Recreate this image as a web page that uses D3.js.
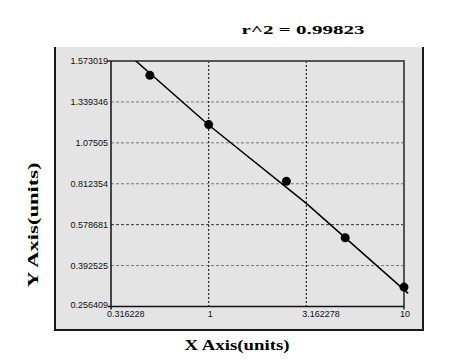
<!DOCTYPE html>
<html>
<head>
<meta charset="utf-8">
<script src="https://cdn.jsdelivr.net/npm/d3@7"></script>
<style>
  body { margin: 0; background: #fff; }
  svg { display: block; }
</style>
</head>
<body>
<svg id="chart"></svg>
<script>
const w = 473, h = 362;

// data
const xTicks = [0.316228, 1, 3.162278, 10];
const xTickLabels = ['0.316228', '1', '3.162278', '10'];
const yTicks = [1.573019, 1.339346, 1.07505, 0.812354, 0.578681, 0.392525, 0.256409];
const yTickLabels = ['1.573019', '1.339346', '1.07505', '0.812354', '0.578681', '0.392525', '0.256409'];
const pointsX = [0.5, 1, 2.5, 5, 10];
const pointsY = [1.491, 1.193, 0.828, 0.519, 0.321];
const fitX = [0.38, 1, 3.162278, 10.5];
const fitY = [1.62, 1.19, 0.70, 0.30];
const rSquared = 'r^2 = 0.99823';

// layout
const pX0 = 111, pX1 = 404, pY0 = 61, pY1 = 306.5;

const svg = d3.select('#chart')
    .attr('width', w)
    .attr('height', h)

// grey panel
svg.append('rect')
    .attr('x', 55)
    .attr('y', 47)
    .attr('width', 368)
    .attr('height', 283)
    .attr('fill', '#e4e4e4')

svg.append('path')
    .attr('d', 'M55,47 V330 H423 V47')
    .attr('fill', 'none')
    .attr('stroke', '#1a1a1a')
    .attr('stroke-width', 2)

// scales
const x = d3.scaleLog().domain([xTicks[0], xTicks[xTicks.length - 1]]).range([pX0, pX1])
const step = (pY1 - pY0) / (yTicks.length - 1)
const y = d3.scaleLinear()
    .domain(yTicks)
    .range(yTicks.map((d, i) => pY0 + i * step))

// horizontal grid
svg.append('g')
    .selectAll('line')
    .data(yTicks.slice(1, -1))
    .enter()
    .append('line')
    .attr('x1', pX0)
    .attr('x2', pX1)
    .attr('y1', d => y(d))
    .attr('y2', d => y(d))
    .attr('stroke', (d, i) => i === 3 ? '#333' : '#777')
    .attr('stroke-dasharray', '3,2')
    .attr('stroke-width', 1)

// vertical grid
svg.append('g')
    .selectAll('line')
    .data(xTicks.slice(1, -1))
    .enter()
    .append('line')
    .attr('x1', d => x(d))
    .attr('x2', d => x(d))
    .attr('y1', pY0)
    .attr('y2', pY1)
    .attr('stroke', '#222')
    .attr('stroke-dasharray', '2,2')
    .attr('stroke-width', 1.2)

// frame
svg.append('path')
    .attr('d', 'M' + (pX0 - 4) + ',' + pY0 + ' H' + pX1 + ' V' + (pY1 + 3))
    .attr('fill', 'none')
    .attr('stroke', '#555')
    .attr('stroke-width', 2)

svg.append('path')
    .attr('d', 'M' + pX0 + ',' + pY0 + ' V' + (pY1 + 3) + ' M' + (pX0 - 3) + ',' + pY1 + ' H' + pX1)
    .attr('fill', 'none')
    .attr('stroke', '#111')
    .attr('stroke-width', 1.5)

// clip for the fit line
svg.append('clipPath')
    .attr('id', 'plotClip')
    .append('rect')
    .attr('x', pX0)
    .attr('y', pY0)
    .attr('width', pX1 - pX0 + 6)
    .attr('height', pY1 - pY0)

const line = d3.line()
    .x(d => x(d[0]))
    .y(d => y(d[1]))

svg.append('path')
    .datum(fitX.map((d, i) => [d, fitY[i]]))
    .attr('d', line)
    .attr('fill', 'none')
    .attr('stroke', '#000')
    .attr('stroke-width', 1.5)
    .attr('clip-path', 'url(#plotClip)')

// points
svg.append('g')
    .selectAll('circle')
    .data(pointsX.map((d, i) => [d, pointsY[i]]))
    .enter()
    .append('circle')
    .attr('cx', d => x(d[0]))
    .attr('cy', d => y(d[1]))
    .attr('r', 4.5)
    .attr('fill', '#000')

// tick labels
const tickFont = "'Liberation Sans Narrow', 'Arial Narrow', 'Liberation Sans', sans-serif"

svg.append('g')
    .selectAll('text')
    .data(yTicks)
    .enter()
    .append('text')
    .attr('x', 108)
    .attr('y', (d, i) => y(d) + 3 - (i === yTicks.length - 1 ? 2 : 0))
    .attr('text-anchor', 'end')
    .attr('font-family', tickFont)
    .attr('font-size', '9px')
    .attr('fill', '#111')
    .text((d, i) => yTickLabels[i])

svg.append('g')
    .selectAll('text')
    .data(xTicks)
    .enter()
    .append('text')
    .attr('x', (d, i) => x(d) - (i === 1 ? 1 : 4))
    .attr('y', pY1 + 10)
    .attr('font-family', tickFont)
    .attr('font-size', '9px')
    .attr('fill', '#111')
    .text((d, i) => xTickLabels[i])

// titles
const titleFont = "'Liberation Serif', 'Times New Roman', serif"

svg.append('text')
    .attr('x', 303)
    .attr('y', 34)
    .attr('text-anchor', 'middle')
    .attr('font-family', titleFont)
    .attr('font-weight', 'bold')
    .attr('font-size', '13px')
    .attr('textLength', 123)
    .attr('lengthAdjust', 'spacingAndGlyphs')
    .text(rSquared)

svg.append('text')
    .attr('x', 237)
    .attr('y', 350)
    .attr('text-anchor', 'middle')
    .attr('font-family', titleFont)
    .attr('font-weight', 'bold')
    .attr('font-size', '14px')
    .attr('textLength', 105)
    .attr('lengthAdjust', 'spacingAndGlyphs')
    .text('X Axis(units)')

svg.append('text')
    .attr('transform', 'translate(38,225) rotate(-90)')
    .attr('text-anchor', 'middle')
    .attr('font-family', titleFont)
    .attr('font-weight', 'bold')
    .attr('font-size', '14px')
    .attr('textLength', 125)
    .attr('lengthAdjust', 'spacingAndGlyphs')
    .text('Y Axis(units)')
</script>
</body>
</html>
